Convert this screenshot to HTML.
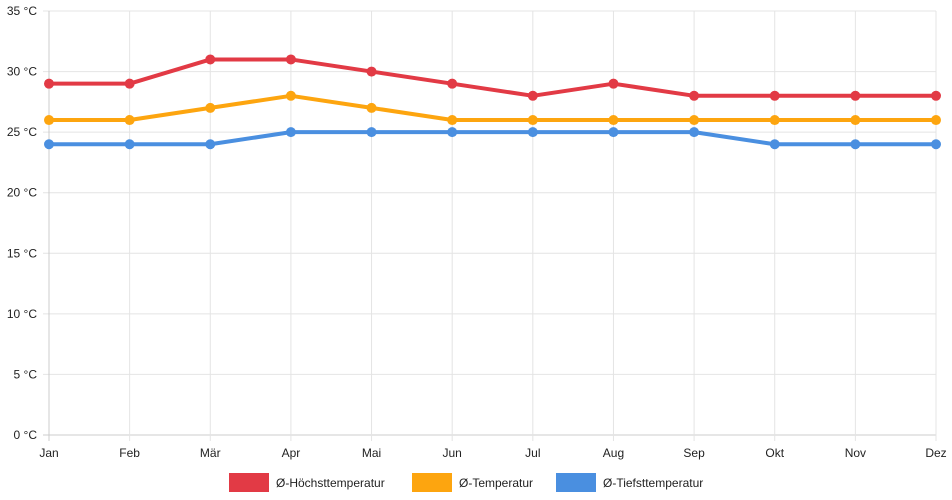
<!DOCTYPE html>
<html><head><meta charset="utf-8"><style>
body{margin:0;background:#fff;}
svg{display:block;font-family:"Liberation Sans",sans-serif;}
</style></head><body>
<svg id="chart" width="952" height="500" xmlns="http://www.w3.org/2000/svg">
<g id="grid"></g>
<g id="series"></g>
<g id="legend"></g>
</svg>
<script>
const months=["Jan","Feb","Mär","Apr","Mai","Jun","Jul","Aug","Sep","Okt","Nov","Dez"];
const yTicks=[0,5,10,15,20,25,30,35];
const high=[29,29,31,31,30,29,28,29,28,28,28,28];
const avg=[26,26,27,28,27,26,26,26,26,26,26,26];
const low=[24,24,24,25,25,25,25,25,25,24,24,24];
const seriesNames=["Ø-Höchsttemperatur","Ø-Temperatur","Ø-Tiefsttemperatur"];
const colors=["#e23a45","#fda50f","#4a8fe0"];
const NS="http://www.w3.org/2000/svg";
const x0=49,x1=936,yTop=11,yBot=435,yMax=35;
const xs=i=>x0+(x1-x0)*i/(months.length-1);
const ys=v=>yBot-(yBot-yTop)*v/yMax;
function mk(tag,attrs,parent){const e=document.createElementNS(NS,tag);for(const k in attrs)e.setAttribute(k,attrs[k]);parent.appendChild(e);return e;}
const grid=document.getElementById('grid');
yTicks.forEach(v=>{
  const l=mk('line',{x1:x0-6,x2:x1,y1:ys(v),y2:ys(v),stroke:v===0?'#ccc':'#e4e4e4','stroke-width':1},grid);
  
  
  const t=mk('text',{x:x0-12,y:ys(v)+4,'text-anchor':'end','font-size':12,fill:'#222'},grid);
  t.textContent=v+' °C';
  
  
});
months.forEach((m,i)=>{
  const l=mk('line',{x1:xs(i),x2:xs(i),y1:yTop,y2:yBot+6,stroke:i===0?'#ccc':'#e4e4e4','stroke-width':1},grid);
  
  
  const t=mk('text',{x:xs(i),y:yBot+22,'text-anchor':'middle','font-size':12,fill:'#222'},grid);
  t.textContent=m;
  
  
});
const sg=document.getElementById('series');
[high,avg,low].forEach((d,s)=>{
  const g=mk('g',{},sg);
  
  
  const p=mk('polyline',{points:d.map((v,i)=>xs(i)+','+ys(v)).join(' '),fill:'none',stroke:colors[s],'stroke-width':4,'stroke-linejoin':'round'},g);
  
  
  d.forEach((v,i)=>{
    const c=mk('circle',{cx:xs(i),cy:ys(v),r:5,fill:colors[s]},g);
    
    
  });
});
const lg=document.getElementById('legend');
const lx=[229,412,556];
seriesNames.forEach((n,s)=>{
  const g=mk('g',{},lg);
  
  
  mk('rect',{x:lx[s],y:473,width:40,height:19,fill:colors[s]},g);
  const t=mk('text',{x:lx[s]+47,y:487,'font-size':12,fill:'#222'},g);
  t.textContent=n;
});
</script>
</body></html>
